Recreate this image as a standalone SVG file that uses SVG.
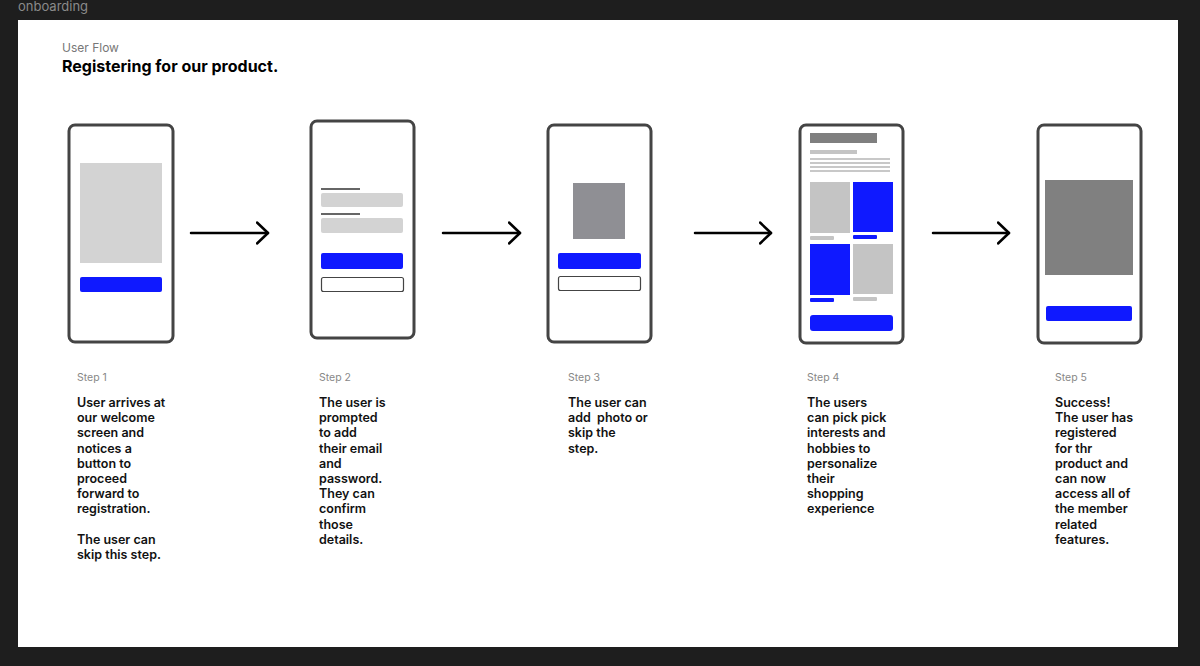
<svg xmlns="http://www.w3.org/2000/svg" width="1200" height="666" viewBox="0 0 1200 666">
<defs>
<style>
.phone{fill:#fff;stroke:#444;stroke-width:3}
.lg{fill:#d3d3d3}
.blue{fill:#0f19ff}
.g2{fill:#c4c4c4}
.outline{fill:#fff;stroke:#444;stroke-width:1.2}
.step{font-family:Inter,"Liberation Sans",sans-serif;font-size:10.5px;fill:#888}
.body{font-family:Inter,"Liberation Sans",sans-serif;font-size:12.5px;font-weight:600;fill:#111}
.conn{stroke:#000;stroke-width:2.5;fill:none;stroke-linecap:round;stroke-linejoin:round}
</style>
<marker id="chev" markerUnits="userSpaceOnUse" markerWidth="24" markerHeight="24" refX="12" refY="12" orient="auto">
<path d="M1,1.5 L12,12 L1,22.5" fill="none" stroke="#000" stroke-width="2.5" stroke-linecap="round" stroke-linejoin="round"/>
</marker>
</defs>
<rect x="0" y="0" width="1200" height="666" fill="#1e1e1e"/>
<text x="18" y="11" font-family="Inter,'Liberation Sans',sans-serif" font-size="13" fill="#8a8a8a">onboarding</text>
<rect x="18" y="20" width="1160" height="627" fill="#fff"/>
<text x="62" y="52" font-family="Inter,'Liberation Sans',sans-serif" font-size="12" fill="#777">User Flow</text>
<text x="62" y="72" font-family="Inter,'Liberation Sans',sans-serif" font-size="16" font-weight="700" fill="#000">Registering for our product.</text>

<g id="connectors">
<path class="conn" d="M191,233 L268,233" marker-end="url(#chev)"/>
<path class="conn" d="M443,233 L520,233" marker-end="url(#chev)"/>
<path class="conn" d="M695,233 L771,233" marker-end="url(#chev)"/>
<path class="conn" d="M933,233 L1009,233" marker-end="url(#chev)"/>
</g>

<g id="step1">
<rect class="phone" x="69" y="125" width="104" height="217" rx="6"/>
<rect class="lg" x="80" y="163" width="82" height="100"/>
<rect class="blue" x="80" y="277" width="82" height="15" rx="2"/>
<text class="step" x="77" y="381">Step 1</text>
<text class="body"><tspan x="77" y="407">User arrives at</tspan><tspan x="77" y="422.2">our welcome</tspan><tspan x="77" y="437.4">screen and</tspan><tspan x="77" y="452.6">notices a</tspan><tspan x="77" y="467.8">button to</tspan><tspan x="77" y="483">proceed</tspan><tspan x="77" y="498.2">forward to</tspan><tspan x="77" y="513.4">registration.</tspan><tspan x="77" y="543.8">The user can</tspan><tspan x="77" y="559">skip this step.</tspan></text>
</g>

<g id="step2">
<rect class="phone" x="311" y="121" width="103" height="217" rx="6"/>
<rect fill="#666" x="321" y="188" width="39" height="2"/>
<rect class="lg" x="321" y="193" width="82" height="14" rx="2"/>
<rect fill="#666" x="321" y="213" width="39" height="2"/>
<rect class="lg" x="321" y="218" width="82" height="15" rx="2"/>
<rect class="blue" x="321" y="253" width="82" height="16" rx="2"/>
<rect class="outline" x="321.5" y="277.5" width="82" height="14" rx="2"/>
<text class="step" x="319" y="381">Step 2</text>
<text class="body"><tspan x="319" y="407">The user is</tspan><tspan x="319" y="422.2">prompted</tspan><tspan x="319" y="437.4">to add</tspan><tspan x="319" y="452.6">their email</tspan><tspan x="319" y="467.8">and</tspan><tspan x="319" y="483">password.</tspan><tspan x="319" y="498.2">They can</tspan><tspan x="319" y="513.4">confirm</tspan><tspan x="319" y="528.6">those</tspan><tspan x="319" y="543.8">details.</tspan></text>
</g>

<g id="step3">
<rect class="phone" x="548" y="125" width="103" height="217" rx="6"/>
<rect fill="#8f8f94" x="573" y="183" width="52" height="56"/>
<rect class="blue" x="558" y="253" width="83" height="16" rx="2"/>
<rect class="outline" x="558.5" y="276.5" width="82" height="14" rx="2"/>
<text class="step" x="568" y="381">Step 3</text>
<text class="body" xml:space="preserve"><tspan x="568" y="407">The user can</tspan><tspan x="568" y="422.2">add  photo or</tspan><tspan x="568" y="437.4">skip the</tspan><tspan x="568" y="452.6">step.</tspan></text>
</g>

<g id="step4">
<rect class="phone" x="800" y="125" width="103" height="218" rx="6"/>
<rect fill="#7f7f7f" x="810" y="133" width="67" height="10"/>
<rect class="g2" x="810" y="150" width="47" height="4"/>
<rect fill="#c8c8c8" x="810" y="158" width="80" height="2"/>
<rect fill="#c8c8c8" x="810" y="162" width="80" height="2"/>
<rect fill="#c8c8c8" x="810" y="166" width="80" height="2"/>
<rect fill="#c8c8c8" x="810" y="170" width="80" height="2"/>
<rect class="g2" x="810" y="182" width="40" height="51"/>
<rect class="blue" x="853" y="182" width="40" height="50"/>
<rect class="g2" x="810" y="236" width="24" height="4" rx="1"/>
<rect class="blue" x="853" y="235" width="24" height="4" rx="1"/>
<rect class="blue" x="810" y="244" width="40" height="51"/>
<rect class="g2" x="853" y="244" width="40" height="50"/>
<rect class="blue" x="810" y="298" width="24" height="4" rx="1"/>
<rect class="g2" x="853" y="297" width="24" height="4" rx="1"/>
<rect class="blue" x="810" y="315" width="83" height="16" rx="3"/>
<text class="step" x="807" y="381">Step 4</text>
<text class="body"><tspan x="807" y="407">The users</tspan><tspan x="807" y="422.2">can pick pick</tspan><tspan x="807" y="437.4">interests and</tspan><tspan x="807" y="452.6">hobbies to</tspan><tspan x="807" y="467.8">personalize</tspan><tspan x="807" y="483">their</tspan><tspan x="807" y="498.2">shopping</tspan><tspan x="807" y="513.4">experience</tspan></text>
</g>

<g id="step5">
<rect class="phone" x="1038" y="125" width="103" height="218" rx="6"/>
<rect fill="#808080" x="1045" y="180" width="88" height="95"/>
<rect class="blue" x="1046" y="306" width="86" height="15" rx="2"/>
<text class="step" x="1055" y="381">Step 5</text>
<text class="body"><tspan x="1055" y="407">Success!</tspan><tspan x="1055" y="422.2">The user has</tspan><tspan x="1055" y="437.4">registered</tspan><tspan x="1055" y="452.6">for thr</tspan><tspan x="1055" y="467.8">product and</tspan><tspan x="1055" y="483">can now</tspan><tspan x="1055" y="498.2">access all of</tspan><tspan x="1055" y="513.4">the member</tspan><tspan x="1055" y="528.6">related</tspan><tspan x="1055" y="543.8">features.</tspan></text>
</g>
</svg>
